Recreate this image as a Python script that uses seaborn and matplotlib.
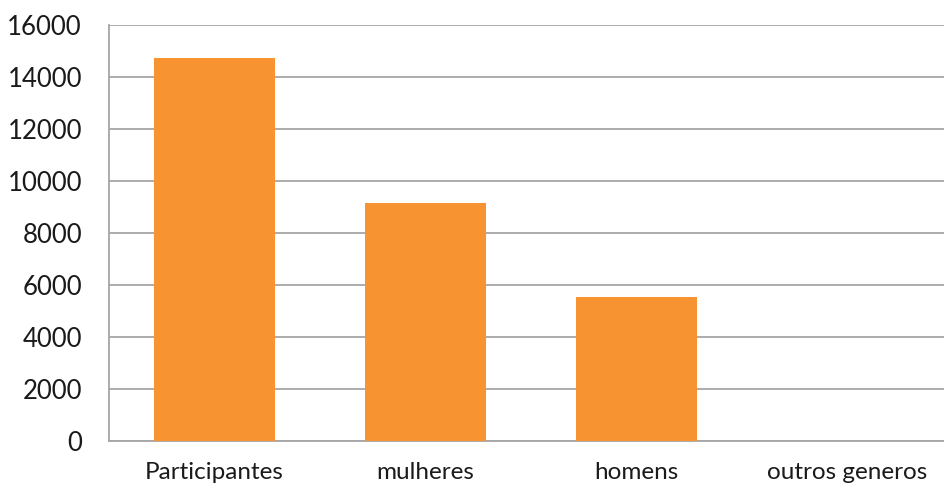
import matplotlib
matplotlib.use("Agg")
import matplotlib.pyplot as plt
import seaborn as sns
import pandas as pd

categories = ["Participantes", "mulheres", "homens", "outros generos"]
values = [14730, 9160, 5540, 0]

sns.set_theme(style="white")
plt.rcParams['font.family'] = ['Lato', 'DejaVu Sans']

df = pd.DataFrame({"cat": categories, "val": values})

fig = plt.figure(figsize=(9.44, 4.88), dpi=100)
ax = fig.add_axes([109/944, 47/488, 844/944, 416/488])

sns.barplot(data=df, x="cat", y="val", color="#F79431", saturation=1,
            width=0.57, linewidth=0, ax=ax, zorder=3)

ax.set_ylim(0, 16000)
ax.set_yticks(range(0, 16001, 2000))
ax.set_xlim(-0.5, 3.5)
ax.yaxis.grid(True, color="#A6A6A6", linewidth=1.3, zorder=0)
ax.set_axisbelow(True)
for s in ["top", "right"]:
    ax.spines[s].set_visible(False)
for s in ["left", "bottom"]:
    ax.spines[s].set_color("#A6A6A6")
    ax.spines[s].set_linewidth(1.3)
ax.set_xlabel("")
ax.set_ylabel("")
ax.tick_params(axis="y", labelsize=18.5, colors="#1a1a1a", length=0, pad=19.5)
ax.tick_params(axis="x", labelsize=17.5, colors="#1a1a1a", length=0, pad=15)

fig.savefig("out.png", dpi=100)
